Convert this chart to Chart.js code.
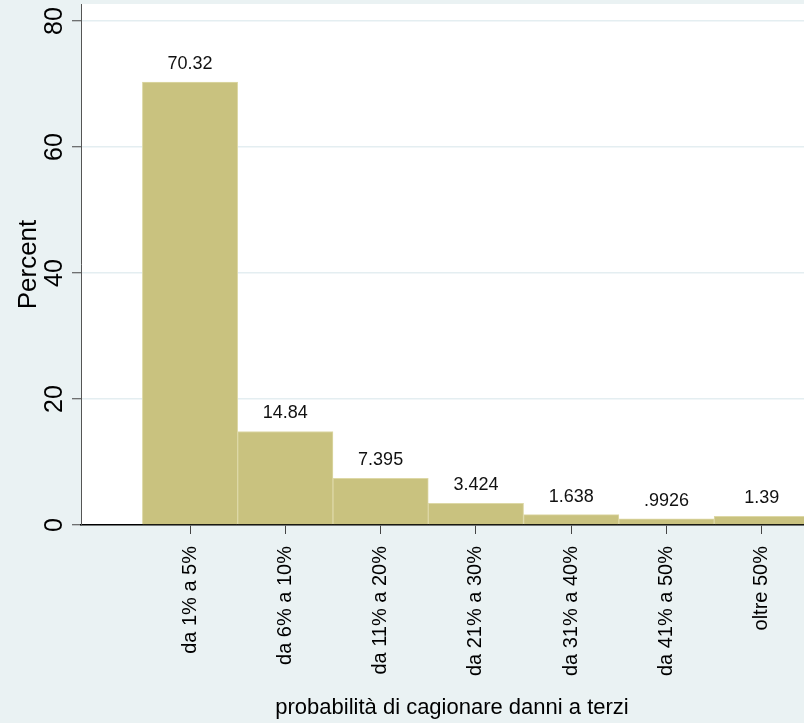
<!DOCTYPE html>
<html lang="it">
<head>
  <meta charset="UTF-8" />
  <title>probabilità di cagionare danni a terzi</title>
  <script src="https://cdn.jsdelivr.net/npm/chart.js"></script>
  <style>
    body {
      margin: 0;
      background: #eaf2f3;
      overflow: hidden;
    }
    #wrap {
      width: 823px;
      height: 723px;
    }
  </style>
</head>
<body>
  <div id="wrap">
    <canvas id="hist" width="823" height="723"></canvas>
  </div>

  <script>
    // categories and percentages
    const categories = [
      "da 1% a 5%",
      "da 6% a 10%",
      "da 11% a 20%",
      "da 21% a 30%",
      "da 31% a 40%",
      "da 41% a 50%",
      "oltre 50%"
    ];
    const percents = [70.32, 14.84, 7.395, 3.424, 1.638, 0.9926, 1.39];
    const yTicks = [0, 20, 40, 60, 80];

    const sans = "'Liberation Sans', Arial, sans-serif";

    // stata style value label: drop leading zero
    const fmt = v => String(v).replace(/^0\./, ".");

    const plotBg = {
      id: "plotBg",
      beforeDraw(chart) {
        const { ctx, chartArea: a } = chart;
        ctx.save();
        ctx.fillStyle = "#ffffff";
        ctx.fillRect(a.left, a.top, a.right - a.left, a.bottom - a.top);
        ctx.restore();
      }
    };

    const barLabels = {
      id: "barLabels",
      afterDatasetsDraw(chart) {
        const { ctx } = chart;
        const meta = chart.getDatasetMeta(0);
        ctx.save();
        ctx.font = "18px " + sans;
        ctx.fillStyle = "#111";
        ctx.textAlign = "center";
        ctx.textBaseline = "middle";
        meta.data.forEach((bar, i) => {
          ctx.fillText(fmt(percents[i]), bar.x, bar.y - 18);
        });
        ctx.restore();
      }
    };

    new Chart(document.getElementById("hist"), {
      type: "bar",
      data: {
        datasets: [{
          data: percents.map((v, i) => ({ x: i + 1, y: v })),
          backgroundColor: "#c9c27f",
          borderColor: "#ddd8a6",
          borderWidth: 1,
          barPercentage: 1,
          categoryPercentage: 1
        }]
      },
      options: {
        responsive: false,
        animation: false,
        devicePixelRatio: 1,
        layout: { padding: { top: 4, left: 0, right: 0, bottom: 0 } },
        plugins: {
          legend: { display: false },
          tooltip: { enabled: false }
        },
        scales: {
          x: {
            type: "linear",
            min: -0.144,
            max: 7.642,
            offset: false,
            afterBuildTicks: s => { s.ticks = categories.map((c, i) => ({ value: i + 1 })); },
            afterFit: s => {
              s.height = 198;
              s.paddingLeft = 0;
              s.paddingRight = 0;
            },
            grid: {
              offset: false,
              drawOnChartArea: false,
              tickLength: 9,
              tickColor: "#444",
              tickWidth: 1
            },
            border: { color: "#000", width: 1.5 },
            ticks: {
              minRotation: 90,
              maxRotation: 90,
              autoSkip: false,
              padding: 12,
              color: "#000",
              font: { family: sans, size: 20 },
              callback: v => categories[v - 1]
            },
            title: {
              display: true,
              text: "probabilità di cagionare danni a terzi",
              color: "#000",
              font: { family: sans, size: 22, lineHeight: 1.2 },
              padding: { top: 0, bottom: 2 }
            }
          },
          y: {
            min: 0,
            max: 82.7,
            afterBuildTicks: s => { s.ticks = yTicks.map(v => ({ value: v })); },
            afterFit: s => {
              s.width = 81;
              s.paddingTop = 0;
              s.paddingBottom = 0;
            },
            grid: {
              color: "#e4eef1",
              lineWidth: 1.5,
              tickLength: 9,
              tickColor: "#444",
              tickWidth: 1
            },
            border: { color: "#555", width: 1 },
            ticks: {
              minRotation: 90,
              maxRotation: 90,
              crossAlign: "center",
              padding: 3,
              color: "#000",
              font: { family: sans, size: 25 }
            },
            title: {
              display: true,
              text: "Percent",
              color: "#000",
              font: { family: sans, size: 26, lineHeight: 1.2 },
              padding: { top: 13, bottom: 0 }
            }
          }
        }
      },
      plugins: [plotBg, barLabels]
    });
  </script>
</body>
</html>
